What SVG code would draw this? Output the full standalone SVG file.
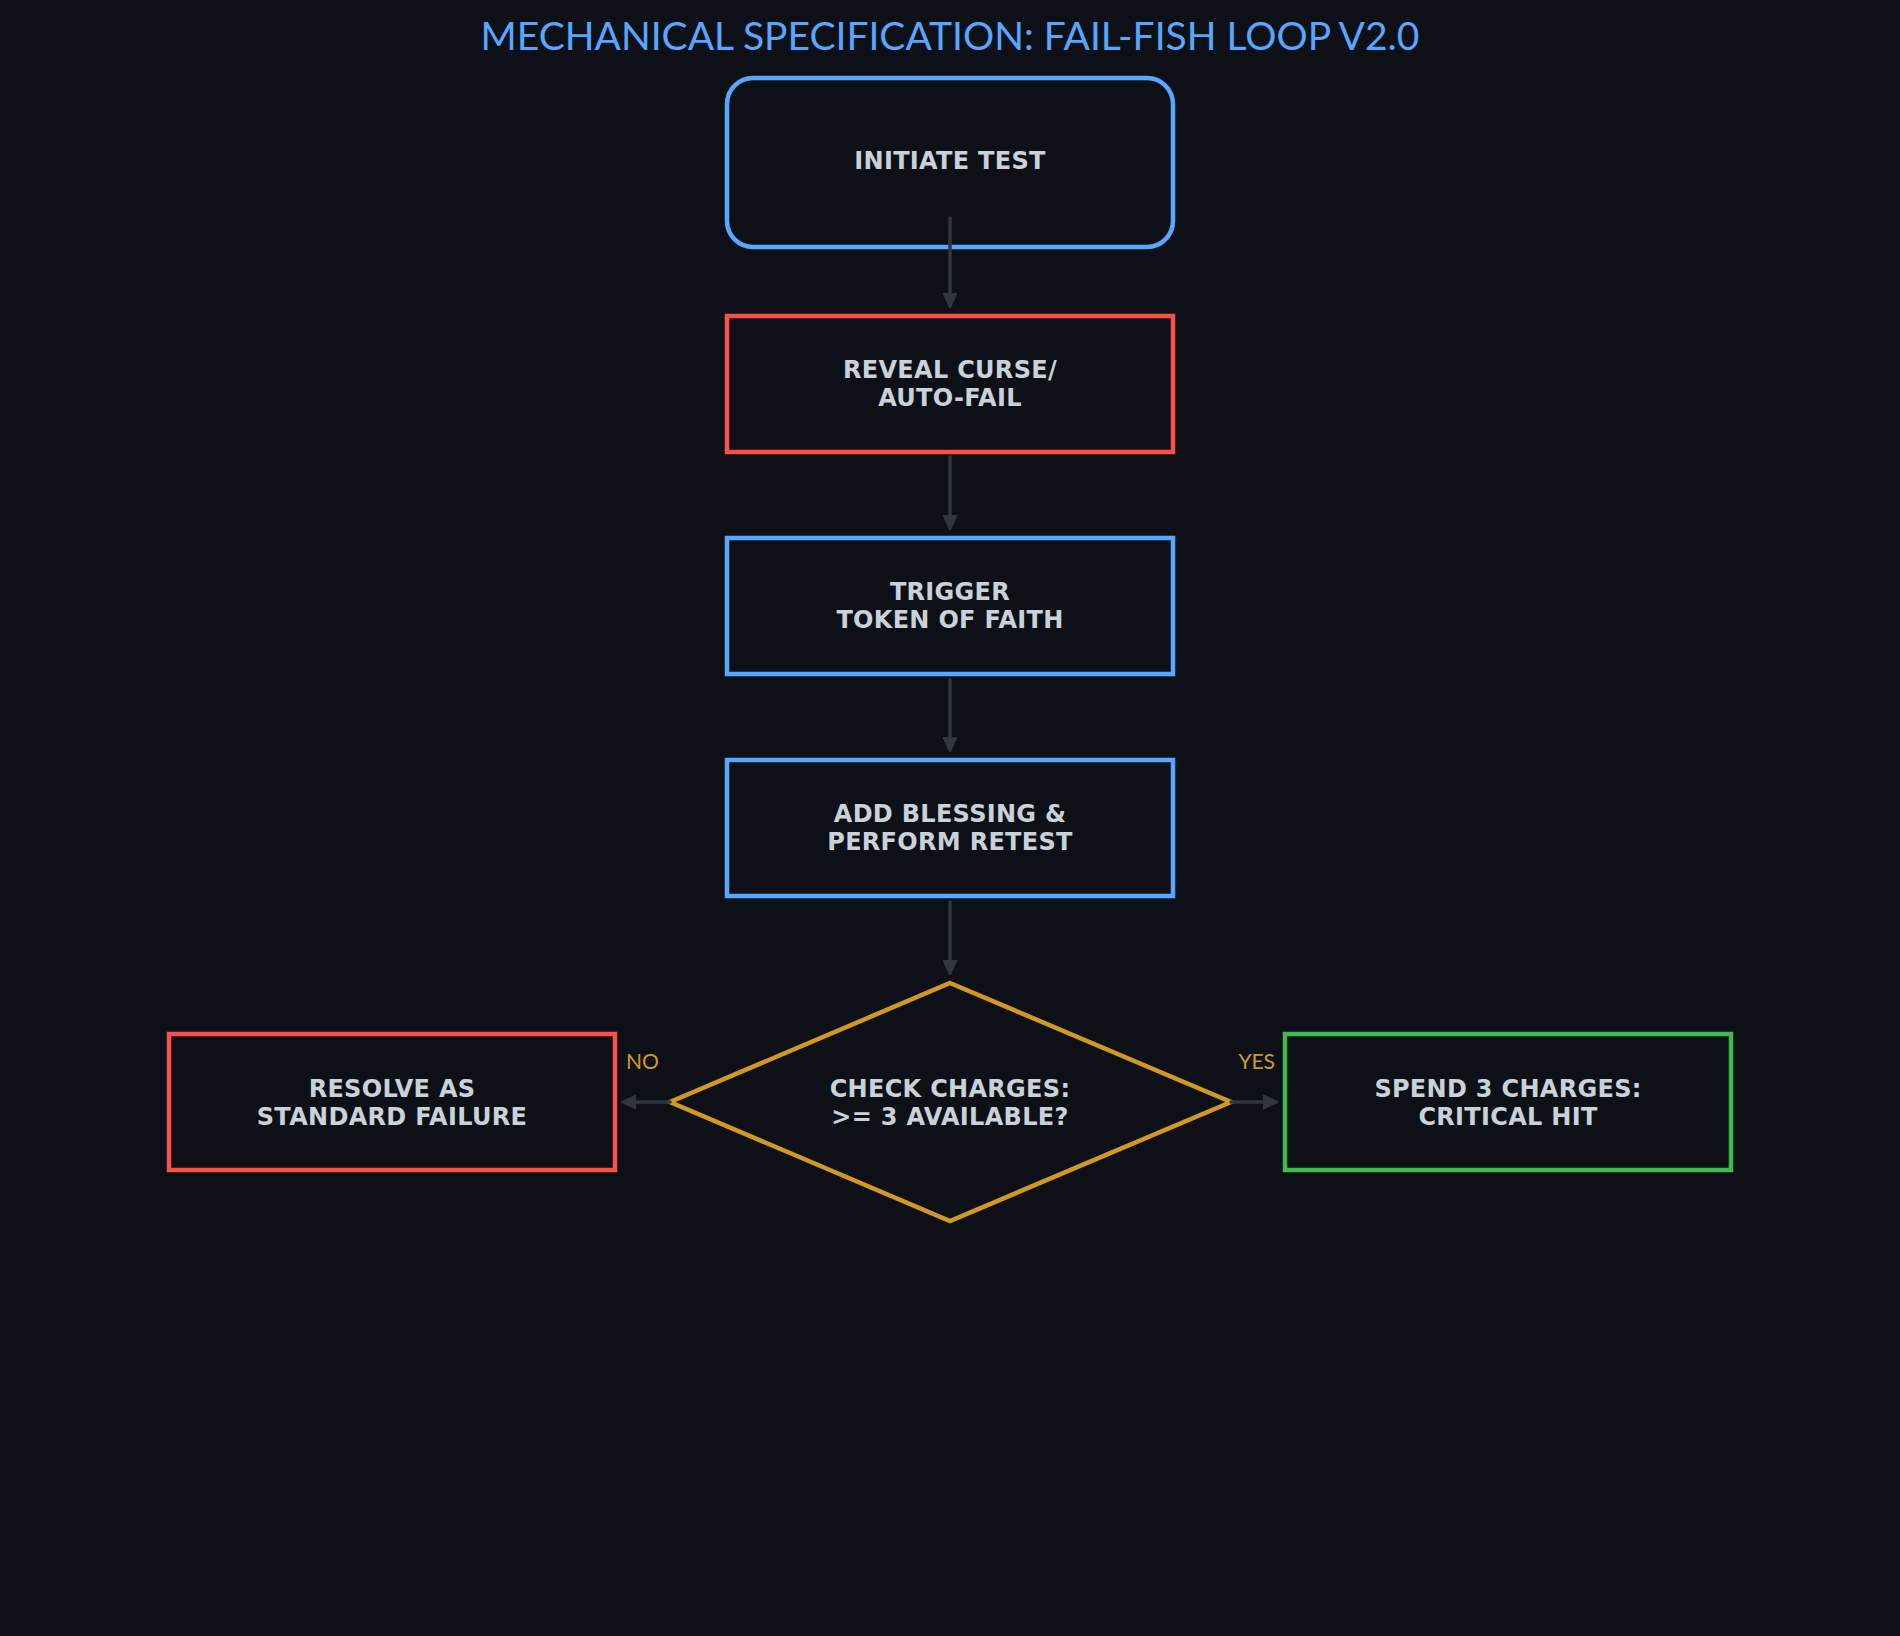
<svg xmlns="http://www.w3.org/2000/svg" width="1900" height="1636" viewBox="0 0 1900 1636">
  <style>
    .bg { fill: #0d1117; }
    .box { fill: #0d1117; stroke-width: 4.5; }
    .blue { stroke: #58a6ff; }
    .red { stroke: #f85149; }
    .green { stroke: #3fb950; }
    .amber { stroke: #d29922; }
    .label { font-family: "DejaVu Sans", "Liberation Sans", sans-serif; font-weight: bold; font-size: 24px; fill: #c9d1d9; text-anchor: middle; letter-spacing: 0.3px; }
    .title { font-family: Lato, "Open Sans", sans-serif; font-weight: 400; font-size: 39px; fill: #58a6ff; text-anchor: middle; }
    .edge-label { font-family: Lato, "Open Sans", sans-serif; font-weight: 400; font-size: 21px; fill: #d29922; }
    .edge { stroke: #30363d; stroke-width: 3.5; fill: none; stroke-linecap: round; marker-end: url(#arrow); }
  </style>
  <defs>
    <marker id="arrow" viewBox="0 0 10 10" refX="7.2" refY="5" markerWidth="15" markerHeight="15" markerUnits="userSpaceOnUse" orient="auto">
      <path d="M0,0.5 L10,5 L0,9.5 Z" fill="#30363d" stroke="#30363d" stroke-width="1" stroke-linejoin="round"/>
    </marker>
  </defs>
  <rect class="bg" x="0" y="0" width="1900" height="1636"/>
  <text class="title" x="950" y="50">MECHANICAL SPECIFICATION: FAIL-FISH LOOP V2.0</text>

  <g id="initiate">
    <rect class="box blue" x="727" y="78" width="446" height="169" rx="26" ry="26"/>
    <text class="label" x="950" y="169">INITIATE TEST</text>
  </g>
  <g id="reveal">
    <rect class="box red" x="727" y="316" width="446" height="136"/>
    <text class="label" x="950" y="378">REVEAL CURSE/</text>
    <text class="label" x="950" y="405.5">AUTO-FAIL</text>
  </g>
  <g id="trigger">
    <rect class="box blue" x="727" y="538" width="446" height="136"/>
    <text class="label" x="950" y="600">TRIGGER</text>
    <text class="label" x="950" y="627.5">TOKEN OF FAITH</text>
  </g>
  <g id="retest">
    <rect class="box blue" x="727" y="760" width="446" height="136"/>
    <text class="label" x="950" y="822">ADD BLESSING &amp;</text>
    <text class="label" x="950" y="849.5">PERFORM RETEST</text>
  </g>
  <g id="check">
    <polygon class="box amber" points="950,983 1231,1102 950,1221 670,1102"/>
    <text class="label" x="950" y="1097">CHECK CHARGES:</text>
    <text class="label" x="950" y="1124.5">&gt;= 3 AVAILABLE?</text>
  </g>
  <g id="failure">
    <rect class="box red" x="169" y="1034" width="446" height="136"/>
    <text class="label" x="392" y="1097">RESOLVE AS</text>
    <text class="label" x="392" y="1124.5">STANDARD FAILURE</text>
  </g>
  <g id="critical">
    <rect class="box green" x="1285" y="1034" width="446" height="136"/>
    <text class="label" x="1508" y="1097">SPEND 3 CHARGES:</text>
    <text class="label" x="1508" y="1124.5">CRITICAL HIT</text>
  </g>

  <g id="connectors">
    <line class="edge" x1="950" y1="218" x2="950" y2="304"/>
    <line class="edge" x1="950" y1="457" x2="950" y2="526"/>
    <line class="edge" x1="950" y1="680" x2="950" y2="748"/>
    <line class="edge" x1="950" y1="902" x2="950" y2="971"/>
    <line class="edge" x1="670" y1="1102" x2="625.6" y2="1102"/>
    <line class="edge" x1="1231" y1="1102" x2="1274" y2="1102"/>
    <text class="edge-label" x="626" y="1069">NO</text>
    <text class="edge-label" x="1275" y="1069" text-anchor="end">YES</text>
  </g>
</svg>
